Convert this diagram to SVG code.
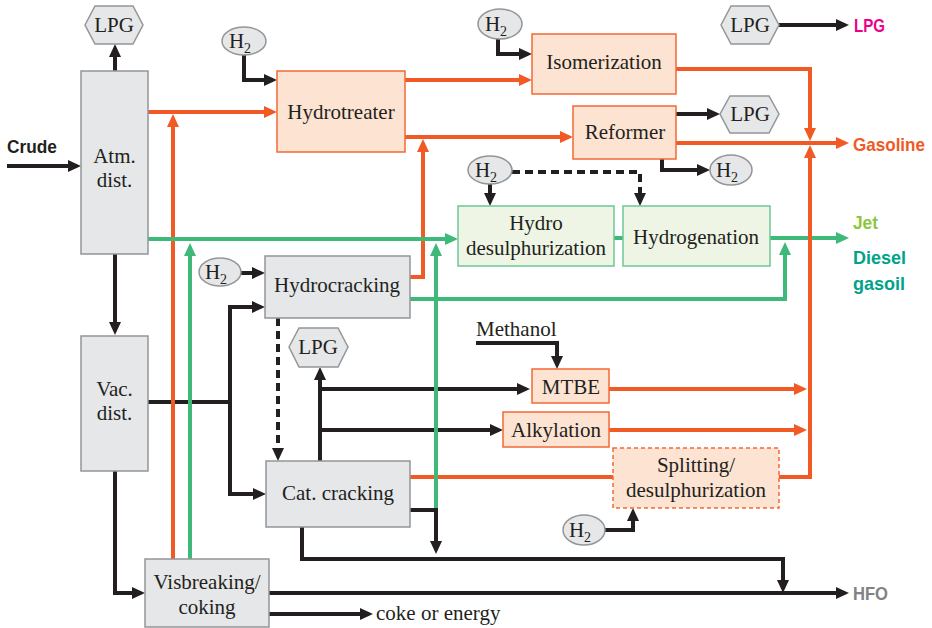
<svg xmlns="http://www.w3.org/2000/svg" width="932" height="628" viewBox="0 0 932 628">
<style>
.gb{fill:#e6e7e8;stroke:#939598;stroke-width:1.5}
.ob{fill:#fde3d1;stroke:#f26a35;stroke-width:1.5}
.od{fill:#fde3d1;stroke:#f26a35;stroke-width:1.5;stroke-dasharray:4 3}
.gr{fill:#eef5e5;stroke:#6cc796;stroke-width:1.5}
.t{font-family:'Liberation Serif','Times New Roman','DejaVu Serif',serif;font-size:21px;fill:#231f20;text-anchor:middle}
.tl{font-family:'Liberation Serif','Times New Roman','DejaVu Serif',serif;font-size:21px;fill:#231f20}
.lb{font-family:'Liberation Sans',sans-serif;font-weight:bold;font-size:19px}
.k{fill:none;stroke:#231f20;stroke-width:4;marker-end:url(#ak)}
.kd{fill:none;stroke:#231f20;stroke-width:4;stroke-dasharray:8 5;marker-end:url(#ak)}
.o{fill:none;stroke:#f15a24;stroke-width:4;marker-end:url(#ao)}
.on{fill:none;stroke:#f15a24;stroke-width:4}
.g{fill:none;stroke:#3fb97a;stroke-width:4;marker-end:url(#ag)}
.gn{fill:none;stroke:#3fb97a;stroke-width:4}
</style>
<defs>
<marker id="ak" markerUnits="userSpaceOnUse" markerWidth="13" markerHeight="12" viewBox="0 0 13 12" refX="9" refY="6" orient="auto"><path d="M0,0 L13,6 L0,12 z" fill="#231f20"/></marker>
<marker id="ao" markerUnits="userSpaceOnUse" markerWidth="13" markerHeight="12" viewBox="0 0 13 12" refX="9" refY="6" orient="auto"><path d="M0,0 L13,6 L0,12 z" fill="#f15a24"/></marker>
<marker id="ag" markerUnits="userSpaceOnUse" markerWidth="13" markerHeight="12" viewBox="0 0 13 12" refX="9" refY="6" orient="auto"><path d="M0,0 L13,6 L0,12 z" fill="#3fb97a"/></marker>
</defs>

<g id="connectors">
<path class="k" d="M7,166 H77"/>
<path class="k" d="M115,71 V48"/>
<path class="k" d="M115,254 V331"/>
<path class="k" d="M244,55 V80 H273"/>
<path class="k" d="M498,39 V54 H528"/>
<path class="k" d="M676,114 H716"/>
<path class="k" d="M662,159 V170 H706"/>
<path class="k" d="M779,25 H845"/>
<path class="k" d="M490,184 V202"/>
<path class="kd" d="M512,172 H640 V202"/>
<path class="k" d="M241,273 H261"/>
<path class="k" d="M148,402 H230 V307 H261"/>
<path class="k" d="M230,402 V494 H262"/>
<path class="kd" d="M278,318 V457"/>
<path class="k" d="M320,461 V371"/>
<path class="k" d="M320,389 H526"/>
<path class="k" d="M320,430 H499"/>
<path class="k" d="M476,343 H557 V365"/>
<path class="k" d="M410,510 H436 V550"/>
<path class="k" d="M302,527 V559 H783 V589"/>
<path class="k" d="M115,471 V593 H141"/>
<path class="k" d="M269,593 H845"/>
<path class="k" d="M269,614 H369"/>
<path class="k" d="M604,530 H633 V512"/>
<path class="o" d="M148,112 H273"/>
<path class="o" d="M173,559 V118"/>
<path class="o" d="M405,80 H528"/>
<path class="o" d="M405,137 H569"/>
<path class="o" d="M410,277 H423 V143"/>
<path class="o" d="M676,69 H810 V137"/>
<path class="o" d="M676,143 H845"/>
<path class="on" d="M410,477 H613"/>
<path class="o" d="M609,389 H803"/>
<path class="o" d="M609,430 H803"/>
<path class="g" d="M148,239 H454"/>
<path class="g" d="M190,559 V247"/>
<path class="g" d="M436,508 V247"/>
<path class="gn" d="M614,238 H623"/>
<path class="g" d="M770,238 H845"/>
<path class="g" d="M410,299 H785 V246"/>
<path class="o" d="M773,477 H810 V149"/>
</g>

<g id="atm"><rect class="gb" x="81" y="71" width="67" height="183"/><text class="t" x="114.5" y="163">Atm.</text><text class="t" x="114.5" y="187">dist.</text></g>
<g id="vac"><rect class="gb" x="81" y="336" width="67" height="135"/><text class="t" x="114.5" y="396">Vac.</text><text class="t" x="114.5" y="420">dist.</text></g>
<g id="lpg1"><polygon class="gb" points="85,25 95,6 133,6 143,25 133,44 95,44"/><text class="t" x="114" y="32">LPG</text></g>
<g id="h2a"><ellipse class="gb" cx="244" cy="41" rx="22" ry="14"/><text class="t" x="240" y="48">H<tspan font-size="14" dy="5">2</tspan></text></g>
<g id="hydrotreater"><rect class="ob" x="277" y="71" width="128" height="81"/><text class="t" x="341" y="119">Hydrotreater</text></g>
<g id="h2b"><ellipse class="gb" cx="500" cy="24" rx="22" ry="15"/><text class="t" x="496" y="31">H<tspan font-size="14" dy="5">2</tspan></text></g>
<g id="isomerization"><rect class="ob" x="532" y="34" width="144" height="60"/><text class="t" x="604" y="69">Isomerization</text></g>
<g id="reformer"><rect class="ob" x="573" y="106" width="103" height="53"/><text class="t" x="625" y="139">Reformer</text></g>
<g id="lpg2"><polygon class="gb" points="720,114 730,96 769,96 779,114 769,133 730,133"/><text class="t" x="750" y="121">LPG</text></g>
<g id="h2c"><ellipse class="gb" cx="731" cy="170" rx="21" ry="15"/><text class="t" x="727" y="177">H<tspan font-size="14" dy="5">2</tspan></text></g>
<g id="lpg3"><polygon class="gb" points="721,25 731,6 769,6 779,25 769,44 731,44"/><text class="t" x="750" y="32">LPG</text></g>
<g id="h2d"><ellipse class="gb" cx="490" cy="170" rx="22" ry="14"/><text class="t" x="486" y="177">H<tspan font-size="14" dy="5">2</tspan></text></g>
<g id="hds"><rect class="gr" x="458" y="206" width="156" height="60"/><text class="t" x="536" y="230">Hydro</text><text class="t" x="536" y="255">desulphurization</text></g>
<g id="hydrogenation"><rect class="gr" x="623" y="206" width="147" height="60"/><text class="t" x="696" y="244">Hydrogenation</text></g>
<g id="h2e"><ellipse class="gb" cx="220" cy="272" rx="21" ry="14"/><text class="t" x="216" y="279">H<tspan font-size="14" dy="5">2</tspan></text></g>
<g id="hydrocracking"><rect class="gb" x="265" y="256" width="145" height="62"/><text class="t" x="337" y="292">Hydrocracking</text></g>
<g id="lpg4"><polygon class="gb" points="289,347 299,328 338,328 348,347 338,367 299,367"/><text class="t" x="318" y="354">LPG</text></g>
<g id="methanol"><text class="tl" x="476" y="336">Methanol</text></g>
<g id="mtbe"><rect class="ob" x="532" y="369" width="77" height="34"/><text class="t" x="571" y="394">MTBE</text></g>
<g id="alkylation"><rect class="ob" x="503" y="412" width="106" height="35"/><text class="t" x="556" y="437">Alkylation</text></g>
<g id="splitting"><rect class="od" x="613" y="448" width="166" height="60"/><text class="t" x="696" y="472">Splitting/</text><text class="t" x="696" y="497">desulphurization</text></g>
<g id="h2f"><ellipse class="gb" cx="584" cy="530" rx="21" ry="15"/><text class="t" x="580" y="537">H<tspan font-size="14" dy="5">2</tspan></text></g>
<g id="catcracking"><rect class="gb" x="266" y="461" width="144" height="66"/><text class="t" x="338" y="500">Cat. cracking</text></g>
<g id="visbreaking"><rect class="gb" x="145" y="559" width="124" height="68"/><text class="t" x="207" y="589">Visbreaking/</text><text class="t" x="207" y="614">coking</text></g>
<g id="coke"><text class="tl" x="376" y="620">coke or energy</text></g>

<g id="labels">
<text class="lb" x="7" y="153" fill="#231f20" textLength="50" lengthAdjust="spacingAndGlyphs">Crude</text>
<text class="lb" x="854" y="32" fill="#ec008c" textLength="31" lengthAdjust="spacingAndGlyphs">LPG</text>
<text class="lb" x="853" y="151" fill="#f15a24" font-size="17" textLength="72" lengthAdjust="spacingAndGlyphs">Gasoline</text>
<text class="lb" x="853" y="229" fill="#8dc63f" textLength="25" lengthAdjust="spacingAndGlyphs">Jet</text>
<text class="lb" x="853" y="264" fill="#00a389" textLength="53" lengthAdjust="spacingAndGlyphs">Diesel</text>
<text class="lb" x="853" y="290" fill="#00a389" textLength="52" lengthAdjust="spacingAndGlyphs">gasoil</text>
<text class="lb" x="853" y="600" fill="#808285" textLength="35" lengthAdjust="spacingAndGlyphs">HFO</text>
</g>
</svg>
